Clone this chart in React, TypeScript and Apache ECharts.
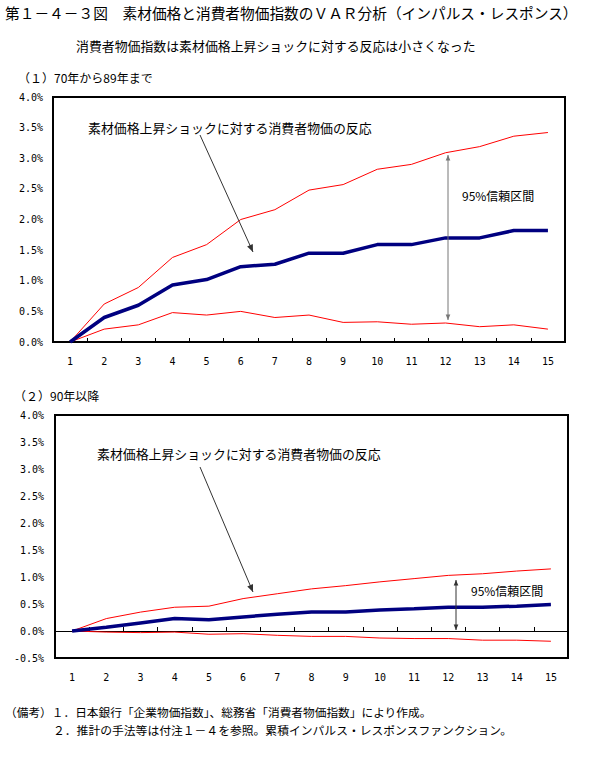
import React, { useEffect, useRef } from "react";
import * as echarts from "echarts";

const categories = ["1", "2", "3", "4", "5", "6", "7", "8", "9", "10", "11", "12", "13", "14", "15"];
const mean1 = [0, 0.4, 0.6, 0.93, 1.02, 1.23, 1.27, 1.45, 1.45, 1.59, 1.59, 1.7, 1.7, 1.82, 1.82];
const upper1 = [0, 0.62, 0.89, 1.38, 1.59, 2.0, 2.16, 2.48, 2.57, 2.82, 2.9, 3.09, 3.19, 3.36, 3.42];
const lower1 = [0, 0.21, 0.28, 0.48, 0.44, 0.5, 0.4, 0.44, 0.32, 0.33, 0.29, 0.31, 0.25, 0.28, 0.21];
const mean2 = [0, 0.07, 0.15, 0.23, 0.21, 0.26, 0.31, 0.35, 0.35, 0.39, 0.41, 0.44, 0.44, 0.46, 0.49];
const upper2 = [0, 0.23, 0.35, 0.44, 0.46, 0.6, 0.69, 0.78, 0.84, 0.91, 0.97, 1.03, 1.06, 1.11, 1.15];
const lower2 = [0, -0.02, -0.03, -0.02, -0.06, -0.05, -0.08, -0.1, -0.1, -0.13, -0.14, -0.14, -0.17, -0.17, -0.19];

const TITLE = "第１－４－３図　素材価格と消費者物価指数のＶＡＲ分析（インパルス・レスポンス）";
const SUBTITLE = "消費者物価指数は素材価格上昇ショックに対する反応は小さくなった";
const SECTION1 = "（１）70年から89年まで";
const SECTION2 = "（２）90年以降";
const ANNOT = "素材価格上昇ショックに対する消費者物価の反応";
const CI = "95%信頼区間";
const NOTE1 = "（備考）１．日本銀行「企業物価指数」、総務省「消費者物価指数」により作成。";
const NOTE2 = "２．推計の手法等は付注１－４を参照。累積インパルス・レスポンスファンクション。";

const JP = "'Noto Sans CJK JP', sans-serif";
const MONO = "'DejaVu Sans Mono', monospace";

function arrowHead(x1: number, y1: number, x2: number, y2: number, color: string, size = 6) {
  const ang = Math.atan2(y2 - y1, x2 - x1);
  const a1 = ang + Math.PI - 0.4;
  const a2 = ang + Math.PI + 0.4;
  return {
    type: "polygon",
    shape: {
      points: [
        [x2, y2],
        [x2 + size * Math.cos(a1), y2 + size * Math.sin(a1)],
        [x2 + size * Math.cos(a2), y2 + size * Math.sin(a2)],
      ],
    },
    style: { fill: color },
    z: 100,
  };
}

function arrow(x1: number, y1: number, x2: number, y2: number, color: string, both = false, size = 6) {
  const els: any[] = [
    { type: "line", shape: { x1, y1, x2, y2 }, style: { stroke: color, lineWidth: 1 }, z: 100 },
    arrowHead(x1, y1, x2, y2, color, size),
  ];
  if (both) els.push(arrowHead(x2, y2, x1, y1, color, size));
  return els;
}

function txt(text: string, x: number, y: number, size: number, family = JP) {
  return {
    type: "text",
    x,
    y,
    style: { text, fontSize: size, fontFamily: family, fill: "#000", textVerticalAlign: "middle" },
    z: 100,
  };
}

export default function App() {
  const ref = useRef<HTMLDivElement>(null);
  useEffect(() => {
    document.body.style.margin = "0";
    const chart = echarts.init(ref.current!, null, { renderer: "svg" });
    const yLabel = {
      fontFamily: MONO,
      fontSize: 10,
      color: "#000",
      margin: 10,
      formatter: (v: number) => v.toFixed(1) + "%",
    };
    const xLabel = { fontFamily: MONO, fontSize: 10, color: "#000", margin: 14 };
    const redLine = (data: number[], xi: number, yi: number) => ({
      type: "line",
      data,
      xAxisIndex: xi,
      yAxisIndex: yi,
      symbol: "none",
      lineStyle: { color: "#ff0000", width: 1 },
      z: 3,
    });
    const blueLine = (data: number[], xi: number, yi: number) => ({
      type: "line",
      data,
      xAxisIndex: xi,
      yAxisIndex: yi,
      symbol: "none",
      lineStyle: { color: "#000080", width: 3.5 },
      z: 4,
    });
    const option: any = {
      animation: false,
      grid: [
        { left: 53, top: 97, width: 512, height: 245, show: true, borderColor: "#000", borderWidth: 2, backgroundColor: "transparent" },
        { left: 55, top: 415, width: 513, height: 243, show: true, borderColor: "#000", borderWidth: 2, backgroundColor: "transparent" },
      ],
      xAxis: [
        {
          type: "category",
          gridIndex: 0,
          data: categories,
          boundaryGap: true,
          axisLine: { show: true, lineStyle: { color: "#000", width: 2 } },
          axisTick: { show: true, inside: true, length: 4, lineStyle: { color: "#000" } },
          axisLabel: xLabel,
        },
        {
          type: "category",
          gridIndex: 1,
          data: categories,
          position: "bottom",
          boundaryGap: true,
          axisLine: { show: false, onZero: false },
          axisTick: { show: false },
          axisLabel: { ...xLabel, margin: 14 },
        },
        {
          type: "category",
          gridIndex: 1,
          data: categories,
          position: "bottom",
          boundaryGap: true,
          axisLine: { show: true, onZero: true, lineStyle: { color: "#000", width: 1 } },
          axisTick: { show: true, inside: true, length: 4, lineStyle: { color: "#000" } },
          axisLabel: { show: false },
        },
      ],
      yAxis: [
        {
          type: "value",
          gridIndex: 0,
          min: 0,
          max: 4,
          interval: 0.5,
          axisLine: { show: false },
          axisTick: { show: false },
          splitLine: { show: false },
          axisLabel: yLabel,
        },
        {
          type: "value",
          gridIndex: 1,
          min: -0.5,
          max: 4,
          interval: 0.5,
          axisLine: { show: false },
          axisTick: { show: false },
          splitLine: { show: false },
          axisLabel: { ...yLabel, margin: 11 },
        },
      ],
      series: [
        redLine(upper1, 0, 0),
        redLine(lower1, 0, 0),
        blueLine(mean1, 0, 0),
        redLine(upper2, 1, 1),
        redLine(lower2, 1, 1),
        blueLine(mean2, 1, 1),
      ],
      graphic: [
        txt(TITLE, 5, 12, 14.7),
        txt(SUBTITLE, 76, 45, 12.9),
        txt(SECTION1, 18, 77, 12),
        txt(SECTION2, 14, 395, 12),
        txt(ANNOT, 88, 127, 12.9),
        txt(CI, 462, 195, 12),
        ...arrow(200, 135, 253, 252, "#333", false, 8),
        ...arrow(448, 320, 448, 155, "#777", true, 6),
        txt(ANNOT, 97, 453, 12.9),
        txt(CI, 471, 590, 12),
        ...arrow(200, 467, 253, 592, "#333", false, 8),
        ...arrow(456, 630, 456, 580, "#333", true, 6),
        txt(NOTE1, 5, 711, 11.7),
        txt(NOTE2, 53, 729, 11.8),
      ],
    };
    chart.setOption(option);
    return () => chart.dispose();
  }, []);
  return <div ref={ref} style={{ width: 612, height: 757 }} />;
}
